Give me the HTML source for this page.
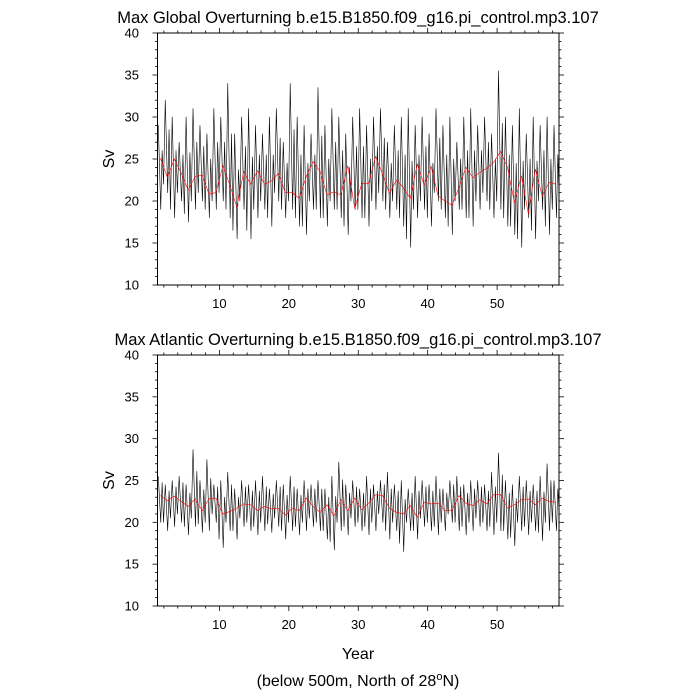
<!DOCTYPE html>
<html><head><meta charset="utf-8"><style>
body{margin:0;background:#fff}
svg{display:block;font-family:"Liberation Sans",Arial,sans-serif}
</style></head><body>
<svg id="chart" width="700" height="700" viewBox="0 0 700 700" xmlns="http://www.w3.org/2000/svg"></svg>
<script>
// ---- data ----
const yTicks = [10, 15, 20, 25, 30, 35, 40];
const xTicks = [10, 20, 30, 40, 50];
const topTitle = "Max Global Overturning b.e15.B1850.f09_g16.pi_control.mp3.107";
const botTitle = "Max Atlantic Overturning b.e15.B1850.f09_g16.pi_control.mp3.107";
const topHi = [29,32,30,27,30,31,29,28,31,30,34,28,30,31,29,28,30,31,27,34,30,29,28,33.5,29,31,30,28,30,31,29,30,31,27,29,30,31,29,30,28,31,29,30,27,30,31,29,30,28,35.5,30,29,31,28,30,29,30,29];
const topLo = [19,21,18,20,17.5,19,20,18,19,20,18,15.5,19,15.5,18,19,17,20,18,19,17,16,19,18,17,19,18,16,19,18,17,19,20,18,19,17,14.5,18,19,17,20,18,16,19,18,17,19,20,18,19,17,16,14.5,18,15.5,19,16,18];
const topMean = [25.1,22.8,25,23.3,21.3,22.9,23.1,20.8,21,24.2,21.9,19.3,23.5,22,23.6,22,22.4,23.3,21,21,20.3,22.9,24.7,23.5,20.7,21.1,20.7,24.2,19.1,22.1,22.1,25.3,23.2,20.9,22.5,21.6,20.3,24.4,21.9,24.1,20.6,20,19.5,21.6,24,22.8,23.4,23.9,24.6,25.9,24,19.8,23,18.5,23.8,20.6,22.2,22];
const botHi = [25.5,24.5,25,25.5,24.5,28.7,25,27.5,24.5,25,26,24,25,24.5,25,25.5,24,25,24.5,25.5,24,25,24.5,25,24,25.5,27.2,24.5,25,24,25.5,24.5,25,26,24.5,25,24,25.5,25,24.5,25.5,24,25,25.5,24.5,25,25,24.5,26,28.3,25,24.5,25.5,25,24.5,25.5,27,25];
const botLo = [20,19,19.5,20,18.5,19.5,18.8,19,20,17,19,18,19.5,19,18.5,19,18.8,19.5,18,19,18.5,19,19.5,19,18,16.7,19,18.5,19.5,19,18.5,19,20,18,19,16.5,19,18,19.5,19,18.5,19,20,19,18.5,19,19.5,19,18.5,19,18,17.2,19,18.5,19,17.8,19,19];
const botMean = [23.2,22.6,23.1,22.5,21.9,22.8,21.4,22.8,22.9,21,21.3,21.7,22.2,22.1,21.4,21.9,21.6,21.7,20.85,21.7,21.4,22.9,21.9,21.2,22.1,20.8,22.7,21.4,22.9,21.5,22.3,23.3,23.2,21.7,21.2,21,22,20.6,22.4,22.2,22.3,21.4,21.4,23.2,22.3,22,22.7,22.2,23.3,23.3,21.7,22.1,22.7,22.8,22.1,22.9,22.5,22.4];

const NS = "http://www.w3.org/2000/svg";
const svg = document.getElementById("chart");
const X0 = 157.5, X1 = 559, XMIN = 1.083, XMAX = 58.917;
function mk(tag, attrs, parent) {
  const e = document.createElementNS(NS, tag);
  for (const k in attrs) e.setAttribute(k, attrs[k]);
  (parent || svg).appendChild(e);
  return e;
}
function xs(v) { return X0 + (v - XMIN) / (XMAX - XMIN) * (X1 - X0); }

function panel(prefix, top, bottom, title, hi, lo, mean) {
  const ys = v => bottom - (v - 10) / 30 * (bottom - top);
  const g = mk("g", {});
  
  
  const t = mk("text", {x: 358, y: top - 10, "text-anchor": "middle", "font-size": 16.5}, g);
  t.textContent = title;
  
  
  const yl = mk("text", {x: 114, y: (top + bottom) / 2, "text-anchor": "middle", "font-size": 16, transform: `rotate(-90 114 ${(top + bottom) / 2})`}, g);
  yl.textContent = "Sv";
  
  
  let pts = [];
  const n = Math.min(hi.length, lo.length);
  for (let i = 0; i < n; i++) {
    pts.push(xs(1.2 + i) + "," + ys(hi[i]));
    pts.push(xs(1.55 + i) + "," + ys(lo[i]));
    pts.push(xs(1.75 + i) + "," + ys((hi[i] + lo[i]) / 2 + 2));
    pts.push(xs(1.95 + i) + "," + ys(lo[(i + 1) % n] + 1));
  }
  const bl = mk("polyline", {points: pts.join(" "), fill: "none", stroke: "#000", "stroke-width": 0.6, "stroke-linejoin": "round"}, g);
  
  
  const mp = mean.map((v, i) => xs(1.5 + i) + "," + ys(v)).join(" ");
  const rl = mk("polyline", {points: mp, fill: "none", stroke: "#ff0000", "stroke-width": 0.6}, g);
  
  
  const fr = mk("rect", {x: X0, y: top, width: X1 - X0, height: bottom - top, fill: "none", stroke: "#000", "stroke-width": 1}, g);
  
  
  for (let v = 10; v <= 40; v++) {
    const L = v % 5 === 0 ? 5 : 2.5, y = ys(v);
    mk("line", {x1: X0, x2: X0 - L, y1: y, y2: y, stroke: "#000", "stroke-width": 0.8}, g);
    mk("line", {x1: X1, x2: X1 + L, y1: y, y2: y, stroke: "#000", "stroke-width": 0.8}, g);
  }
  yTicks.forEach(v => {
    const tl = mk("text", {x: 139, y: ys(v) + 4.5, "text-anchor": "end", "font-size": 13}, g);
    tl.textContent = v;
    
    
  });
  for (let v = 2; v <= 58; v += 2) {
    const L = v % 10 === 0 ? 5 : 2.5, x = xs(v);
    mk("line", {x1: x, x2: x, y1: bottom, y2: bottom + L, stroke: "#000", "stroke-width": 0.8}, g);
    mk("line", {x1: x, x2: x, y1: top, y2: top - L, stroke: "#000", "stroke-width": 0.8}, g);
  }
  xTicks.forEach(v => {
    const tl = mk("text", {x: xs(v), y: bottom + 23, "text-anchor": "middle", "font-size": 13}, g);
    tl.textContent = v;
    
    
  });
}
panel("global", 33, 285, topTitle, topHi, topLo, topMean);
panel("atlantic", 355, 606, botTitle, botHi, botLo, botMean);
const xt = mk("text", {x: 358, y: 659, "text-anchor": "middle", "font-size": 16});
xt.textContent = "Year";


const nt = mk("text", {x: 358, y: 686, "text-anchor": "middle", "font-size": 16});
nt.innerHTML = '(below 500m, North of 28<tspan dy="-6" font-size="11">o</tspan><tspan dy="6">N)</tspan>';


</script>
</body></html>
